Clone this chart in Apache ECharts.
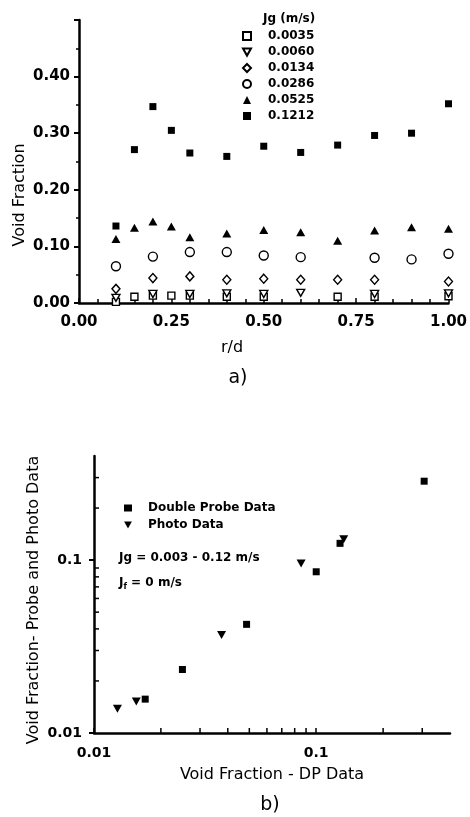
<!DOCTYPE html>
<html>
<head>
<meta charset="utf-8">
<script src="https://cdn.jsdelivr.net/npm/echarts@6/dist/echarts.min.js"></script>
<style>html,body{margin:0;padding:0;background:#fff;}#c{width:470px;height:817px;}</style>
</head>
<body>
<div id="c"></div>
<script>
// ---------- Panel a) data : r/d positions and void fraction per Jg ----------
const legendNamesA = ['0.0035', '0.0060', '0.0134', '0.0286', '0.0525', '0.1212'];
const r_0035 = [0.1, 0.15, 0.2, 0.25, 0.3, 0.4, 0.5, 0.7, 0.8, 1.0];
const vf_0035 = [0.002, 0.011, 0.013, 0.013, 0.013, 0.011, 0.011, 0.011, 0.011, 0.012];
const r_0060 = [0.1, 0.2, 0.3, 0.4, 0.5, 0.6, 0.8, 1.0];
const vf_0060 = [0.009, 0.016, 0.016, 0.017, 0.016, 0.018, 0.016, 0.017];
const r_0134 = [0.1, 0.2, 0.3, 0.4, 0.5, 0.6, 0.7, 0.8, 1.0];
const vf_0134 = [0.025, 0.044, 0.047, 0.041, 0.043, 0.041, 0.041, 0.041, 0.038];
const r_0286 = [0.1, 0.2, 0.3, 0.4, 0.5, 0.6, 0.8, 0.9, 1.0];
const vf_0286 = [0.065, 0.082, 0.090, 0.090, 0.084, 0.081, 0.080, 0.077, 0.087];
const r_0525 = [0.1, 0.15, 0.2, 0.25, 0.3, 0.4, 0.5, 0.6, 0.7, 0.8, 0.9, 1.0];
const vf_0525 = [0.113, 0.133, 0.144, 0.135, 0.116, 0.123, 0.129, 0.125, 0.110, 0.128, 0.134, 0.131];
const r_1212 = [0.1, 0.15, 0.2, 0.25, 0.3, 0.4, 0.5, 0.6, 0.7, 0.8, 0.9, 1.0];
const vf_1212 = [0.136, 0.271, 0.347, 0.305, 0.265, 0.259, 0.277, 0.266, 0.279, 0.296, 0.300, 0.352];
const yTicksA = [0.00, 0.10, 0.20, 0.30, 0.40];
const xTicksA = [0.00, 0.25, 0.50, 0.75, 1.00];

// ---------- Panel b) data : DP data vs probe/photo data ----------
const legendNamesB = ['Double Probe Data', 'Photo Data'];
const dp_x = [0.017, 0.025, 0.0486, 0.100, 0.128, 0.306];
const dp_y = [0.0157, 0.0233, 0.0425, 0.0856, 0.125, 0.286];
const ph_x = [0.01275, 0.0155, 0.0375, 0.0855, 0.133];
const ph_y = [0.0138, 0.0152, 0.0369, 0.0957, 0.132];
const logMin = 0.01, logMax = 0.4;
const logMinorTicks = [0.02, 0.03, 0.04, 0.05, 0.06, 0.07, 0.08, 0.09, 0.2, 0.3];

const zip = (a, b) => a.map((v, i) => [v, b[i]]);
const axisLine = { show: true, lineStyle: { color: '#000', width: 2.5 } };
const DOWN_TRI = 'path://M0,0 L10,0 L5,9 Z';

const chart = echarts.init(document.getElementById('c'), null, { renderer: 'canvas' });

const openStyle = { color: '#fff', borderColor: '#000', borderWidth: 1.4, opacity: 1 };
const filledStyle = { color: '#000', opacity: 1 };

function minorTickSeries(xi, yi, dir) {
  return {
    type: 'custom', xAxisIndex: xi, yAxisIndex: yi, silent: true, clip: false, z: 5,
    data: logMinorTicks.map(v => dir === 'x' ? [v, logMin] : [logMin, v]),
    renderItem: function (params, api) {
      const p = api.coord([api.value(0), api.value(1)]);
      if (dir === 'x') {
        return { type: 'line', shape: { x1: p[0], y1: p[1], x2: p[0], y2: p[1] - 5 }, style: { stroke: '#000', lineWidth: 1.5 } };
      }
      return { type: 'line', shape: { x1: p[0], y1: p[1], x2: p[0] + 5, y2: p[1] }, style: { stroke: '#000', lineWidth: 1.5 } };
    }
  };
}

const legendTextA = { color: '#000', fontFamily: 'DejaVu Sans', fontWeight: 'bold', fontSize: 12, padding: [0, 0, 0, 12] };
const legendTextB = { color: '#000', fontFamily: 'DejaVu Sans', fontWeight: 'bold', fontSize: 12, padding: [0, 0, 0, 11] };

const option = {
  backgroundColor: '#fff',
  animation: false,
  textStyle: { fontFamily: 'DejaVu Sans' },
  grid: [
    { left: 79, top: 20, width: 373, height: 283, containLabel: false },
    { left: 94, top: 456, width: 356, height: 277, containLabel: false }
  ],
  xAxis: [
    {
      gridIndex: 0, type: 'value', min: 0, max: 1, interval: 0.25,
      axisLine: axisLine, splitLine: { show: false },
      axisTick: { show: true, inside: true, length: 5, lineStyle: { color: '#000', width: 1.5 } },
      minorTick: { show: true, splitNumber: 5, length: 4, lineStyle: { color: '#000', width: 1.5 } },
      axisLabel: { margin: 12, color: '#000', fontFamily: 'DejaVu Sans', fontWeight: 'bold', fontSize: 15,
        formatter: v => xTicksA.some(t => Math.abs(t - v) < 1e-9) ? v.toFixed(2) : '' }
    },
    {
      gridIndex: 1, type: 'log', logBase: 10, min: logMin, max: logMax,
      axisLine: axisLine, splitLine: { show: false },
      axisTick: { show: true, inside: true, length: 5, lineStyle: { color: '#000', width: 1.5 } },
      axisLabel: { margin: 13, color: '#000', fontFamily: 'DejaVu Sans', fontWeight: 'bold', fontSize: 14, showMaxLabel: false,
        formatter: v => { const e = Math.log10(v); return Math.abs(e - Math.round(e)) < 1e-6 ? String(+v.toPrecision(2)) : ''; } }
    }
  ],
  yAxis: [
    {
      gridIndex: 0, type: 'value', min: 0, max: 0.5, interval: 0.1,
      axisLine: axisLine, splitLine: { show: false },
      axisTick: { show: true, inside: false, length: 5, lineStyle: { color: '#000', width: 2 } },
      minorTick: { show: true, splitNumber: 2, length: 3, lineStyle: { color: '#000', width: 1.5 } },
      axisLabel: { margin: 9, color: '#000', fontFamily: 'DejaVu Sans', fontWeight: 'bold', fontSize: 15,
        formatter: v => yTicksA.some(t => Math.abs(t - v) < 1e-9) ? v.toFixed(2) : '' }
    },
    {
      gridIndex: 1, type: 'log', logBase: 10, min: logMin, max: logMax,
      axisLine: axisLine, splitLine: { show: false },
      axisTick: { show: true, inside: false, length: 5, lineStyle: { color: '#000', width: 2 } },
      axisLabel: { margin: 12, color: '#000', fontFamily: 'DejaVu Sans', fontWeight: 'bold', fontSize: 14, showMaxLabel: false,
        formatter: v => { const e = Math.log10(v); return Math.abs(e - Math.round(e)) < 1e-6 ? String(+v.toPrecision(2)) : ''; } }
    }
  ],
  legend: [
    {
      data: [
        { name: legendNamesA[0], icon: 'rect' },
        { name: legendNamesA[1], icon: DOWN_TRI },
        { name: legendNamesA[2], icon: 'diamond' },
        { name: legendNamesA[3], icon: 'circle' },
        { name: legendNamesA[4], icon: 'triangle' },
        { name: legendNamesA[5], icon: 'rect' }
      ],
      orient: 'vertical', left: 237, top: 25,
      itemWidth: 8, itemHeight: 8, itemGap: 4, symbolKeepAspect: true,
      textStyle: legendTextA,
      selectedMode: false
    },
    {
      data: [
        { name: legendNamesB[0], icon: 'rect' },
        { name: legendNamesB[1], icon: DOWN_TRI }
      ],
      orient: 'vertical', left: 119, top: 497,
      itemWidth: 8, itemHeight: 7, itemGap: 5,
      textStyle: legendTextB,
      selectedMode: false
    }
  ],
  graphic: [
    { type: 'text', left: 263, top: 13, style: { text: 'Jg (m/s)', font: 'bold 12px "DejaVu Sans"', fill: '#000' } },
    { type: 'text', x: 20, y: 195, rotation: Math.PI / 2, style: { text: 'Void Fraction', font: '16px "DejaVu Sans"', fill: '#000', textAlign: 'center', textVerticalAlign: 'middle', verticalAlign: 'middle' } },
    { type: 'text', x: 232, y: 348, style: { text: 'r/d', font: '16px "DejaVu Sans"', fill: '#000', textAlign: 'center', textVerticalAlign: 'middle', verticalAlign: 'middle' } },
    { type: 'text', x: 238, y: 378, style: { text: 'a)', font: '19px "DejaVu Sans"', fill: '#000', textAlign: 'center', textVerticalAlign: 'middle', verticalAlign: 'middle' } },
    { type: 'text', x: 34, y: 600, rotation: Math.PI / 2, style: { text: 'Void Fraction- Probe and Photo Data', font: '16px "DejaVu Sans"', fill: '#000', textAlign: 'center', textVerticalAlign: 'middle', verticalAlign: 'middle' } },
    { type: 'text', x: 272, y: 775, style: { text: 'Void Fraction - DP Data', font: '16px "DejaVu Sans"', fill: '#000', textAlign: 'center', textVerticalAlign: 'middle', verticalAlign: 'middle' } },
    { type: 'text', x: 270, y: 805, style: { text: 'b)', font: '19px "DejaVu Sans"', fill: '#000', textAlign: 'center', textVerticalAlign: 'middle', verticalAlign: 'middle' } },
    { type: 'text', x: 119, y: 558, style: { text: 'Jg = 0.003 - 0.12 m/s', font: 'bold 12px "DejaVu Sans"', fill: '#000', textVerticalAlign: 'middle', verticalAlign: 'middle' } },
    { type: 'text', x: 119, y: 583, style: { text: '{n|J}{s|f}{n| = 0 m/s}', fill: '#000', textVerticalAlign: 'middle', verticalAlign: 'middle',
        rich: { n: { font: 'bold 12px "DejaVu Sans"', fill: '#000' }, s: { font: 'bold 8px "DejaVu Sans"', fill: '#000', padding: [8, 0, 0, 0] } } } }
  ],
  series: [
    { name: '0.0035', type: 'scatter', xAxisIndex: 0, yAxisIndex: 0, symbol: 'rect', symbolSize: 7, itemStyle: openStyle, data: zip(r_0035, vf_0035), z: 3 },
    { name: '0.0060', type: 'scatter', xAxisIndex: 0, yAxisIndex: 0, symbol: DOWN_TRI, symbolSize: [8, 7], itemStyle: openStyle, data: zip(r_0060, vf_0060), z: 4 },
    { name: '0.0134', type: 'scatter', xAxisIndex: 0, yAxisIndex: 0, symbol: 'diamond', symbolSize: [8, 9], itemStyle: openStyle, data: zip(r_0134, vf_0134), z: 3 },
    { name: '0.0286', type: 'scatter', xAxisIndex: 0, yAxisIndex: 0, symbol: 'circle', symbolSize: 9, itemStyle: openStyle, data: zip(r_0286, vf_0286), z: 3 },
    { name: '0.0525', type: 'scatter', xAxisIndex: 0, yAxisIndex: 0, symbol: 'triangle', symbolSize: [9, 8], itemStyle: filledStyle, data: zip(r_0525, vf_0525), z: 3 },
    { name: '0.1212', type: 'scatter', xAxisIndex: 0, yAxisIndex: 0, symbol: 'rect', symbolSize: 7, itemStyle: filledStyle, data: zip(r_1212, vf_1212), z: 3 },
    { name: 'Double Probe Data', type: 'scatter', xAxisIndex: 1, yAxisIndex: 1, symbol: 'rect', symbolSize: 7, itemStyle: filledStyle, data: zip(dp_x, dp_y), z: 3 },
    { name: 'Photo Data', type: 'scatter', xAxisIndex: 1, yAxisIndex: 1, symbol: DOWN_TRI, symbolSize: [9, 8], itemStyle: filledStyle, data: zip(ph_x, ph_y), z: 4 },
    minorTickSeries(1, 1, 'x'),
    minorTickSeries(1, 1, 'y')
  ]
};
chart.setOption(option);
</script>
</body>
</html>
